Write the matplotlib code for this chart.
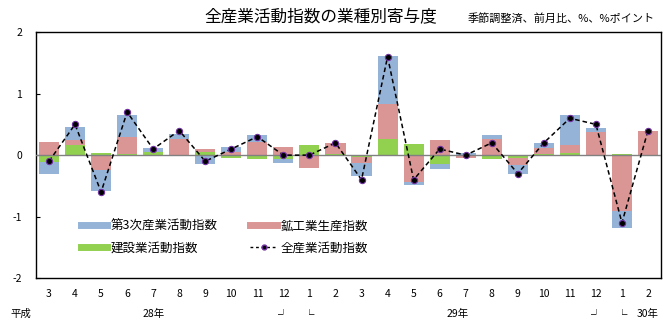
import numpy as np
import matplotlib
matplotlib.use("Agg")
import matplotlib.pyplot as plt
from matplotlib.lines import Line2D

plt.rcParams["font.family"] = ["Noto Sans CJK JP", "DejaVu Sans"]

# months Mar 2016 - Feb 2018
months = ["3", "4", "5", "6", "7", "8", "9", "10", "11", "12", "1", "2",
          "3", "4", "5", "6", "7", "8", "9", "10", "11", "12", "1", "2"]

# contributions (percentage points)
construction = [-0.11, 0.16, 0.04, 0.02, 0.05, 0.0, 0.05, -0.04, -0.06, -0.07, 0.16, 0.02,
                -0.03, 0.26, 0.18, -0.14, 0.0, -0.07, -0.04, 0.02, 0.03, 0.0, 0.02, -0.02]
mining = [0.22, 0.09, -0.24, 0.27, 0.0, 0.26, 0.05, 0.05, 0.21, 0.14, -0.21, 0.18,
          -0.10, 0.57, -0.43, 0.24, -0.04, 0.26, -0.12, 0.10, 0.13, 0.38, -0.91, 0.39]
tertiary = [-0.20, 0.21, -0.35, 0.36, 0.06, 0.08, -0.14, 0.08, 0.12, -0.06, 0.0, 0.0,
            -0.21, 0.78, -0.06, -0.08, 0.04, 0.06, -0.14, 0.08, 0.49, 0.06, -0.28, 0.0]
# all industry activity index, month-on-month %
total = [-0.1, 0.5, -0.6, 0.7, 0.1, 0.4, -0.1, 0.1, 0.3, 0.0, 0.0, 0.2,
         -0.4, 1.6, -0.4, 0.1, 0.0, 0.2, -0.3, 0.2, 0.6, 0.5, -1.1, 0.4]

c_blue = "#95B3D7"
c_pink = "#DA9694"
c_green = "#92D050"

fig = plt.figure(figsize=(6.7, 3.28), dpi=100)
ax = fig.add_axes([0.0537, 0.152, 0.9329, 0.750])

x = np.arange(len(months))
pos_base = np.zeros(len(months))
neg_base = np.zeros(len(months))
# stacked bars: green nearest the axis, then pink, then blue
for vals, col in [(construction, c_green), (mining, c_pink), (tertiary, c_blue)]:
    v = np.array(vals)
    base = np.where(v >= 0, pos_base, neg_base)
    ax.bar(x, v, bottom=base, width=0.77, color=col, linewidth=0, zorder=2)
    pos_base += np.where(v > 0, v, 0)
    neg_base += np.where(v < 0, v, 0)

ax.axhline(0, color="#808080", lw=1, zorder=3)
ax.plot(x, total, color="black", ls=(0, (3, 2)), lw=1.1, marker="o", markersize=4.5,
        markerfacecolor="black", markeredgecolor="#7030A0", markeredgewidth=0.8, zorder=4)

ax.set_xlim(-0.5, len(months) - 0.5)
ax.set_ylim(-2, 2)
ax.set_yticks([-2, -1, 0, 1, 2])
ax.set_yticklabels(["-2", "-1", "0", "1", "2"])
ax.set_xticks(x)
ax.set_xticklabels(months)
ax.tick_params(axis="y", direction="in", length=3, pad=10, labelsize=7.5)
ax.tick_params(axis="x", length=0, pad=8, labelsize=7.5)
for s in ax.spines.values():
    s.set_linewidth(1)

# year row under the month labels
tr = ax.get_xaxis_transform()
yrow = -0.145
ax.text(-1.1, yrow, "平成", transform=tr, ha="center", va="center", fontsize=7.5)
ax.text(4, yrow, "28年", transform=tr, ha="center", va="center", fontsize=7.5)
ax.text(9, yrow, "┘", transform=tr, ha="center", va="center", fontsize=7.5)
ax.text(10, yrow, "└", transform=tr, ha="center", va="center", fontsize=7.5)
ax.text(15.7, yrow, "29年", transform=tr, ha="center", va="center", fontsize=7.5)
ax.text(21, yrow, "┘", transform=tr, ha="center", va="center", fontsize=7.5)
ax.text(22, yrow, "└", transform=tr, ha="center", va="center", fontsize=7.5)
ax.text(23, yrow, "30年", transform=tr, ha="center", va="center", fontsize=7.5)

handles = [Line2D([], [], color=c_blue, lw=5),
           Line2D([], [], color=c_green, lw=5),
           Line2D([], [], color=c_pink, lw=5),
           Line2D([], [], color="black", ls=(0, (2, 2)), lw=1, marker="o", markersize=3.5,
                  markerfacecolor="black", markeredgecolor="#7030A0")]
labels = ["第3次産業活動指数", "建設業活動指数", "鉱工業生産指数", "全産業活動指数"]
ax.legend(handles, labels, ncol=2, loc="upper left", bbox_to_anchor=(0.072, 0.238),
          frameon=False, fontsize=9, borderpad=0, handlelength=2.1, handletextpad=0.3,
          columnspacing=2.6, labelspacing=0.73, borderaxespad=0)

fig.text(0.479, 0.945, "全産業活動指数の業種別寄与度", ha="center", va="center", fontsize=12)
fig.text(0.978, 0.945, "季節調整済、前月比、%、%ポイント", ha="right", va="center", fontsize=8)

fig.savefig("out.png", dpi=100)
